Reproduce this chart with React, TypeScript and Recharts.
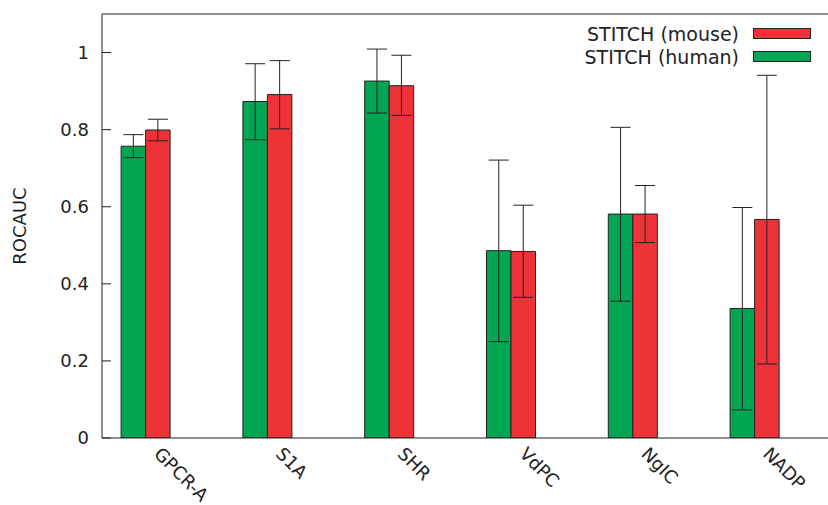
import {
  BarChart,
  Bar,
  XAxis,
  YAxis,
  ErrorBar,
  Legend,
} from 'recharts'

const categories = ['GPCR-A', 'S1A', 'SHR', 'VdPC', 'NgIC', 'NADP']

// STITCH (human) - green
const human = [0.757, 0.873, 0.926, 0.486, 0.581, 0.336]
const humanLow = [0.727, 0.774, 0.843, 0.25, 0.355, 0.073]
const humanHigh = [0.787, 0.971, 1.009, 0.721, 0.806, 0.598]

// STITCH (mouse) - red
const mouse = [0.799, 0.891, 0.914, 0.484, 0.581, 0.567]
const mouseLow = [0.771, 0.802, 0.837, 0.365, 0.507, 0.192]
const mouseHigh = [0.827, 0.979, 0.993, 0.604, 0.655, 0.941]

const yTicks = [0, 0.2, 0.4, 0.6, 0.8, 1]

const GREEN = '#00A651'
const RED = '#EE3338'
const INK = '#222'
const FONT = '"DejaVu Sans", sans-serif'

const chartData = categories.map((name, i) => ({
  name,
  human: human[i],
  humanErr: [human[i] - humanLow[i], humanHigh[i] - human[i]],
  mouse: mouse[i],
  mouseErr: [mouse[i] - mouseLow[i], mouseHigh[i] - mouse[i]],
}))

// rotated category labels, anchored under the red bar
// eslint-disable-next-line @typescript-eslint/no-explicit-any
function CategoryTick(props: any) {
  const { x, y, payload } = props
  const tx = x + 7
  const ty = y + 9
  return (
    <text
      x={tx}
      y={ty}
      transform={`rotate(45, ${tx}, ${ty})`}
      textAnchor="start"
      fill={INK}
      fontSize={18}
      fontFamily={FONT}
    >
      {payload.value}
    </text>
  )
}

function KeyBox() {
  const rows = [
    { label: 'STITCH (mouse)', color: RED },
    { label: 'STITCH (human)', color: GREEN },
  ]
  return (
    <div style={{ fontFamily: FONT, fontSize: 19, color: INK }}>
      {rows.map((r) => (
        <div
          key={r.label}
          style={{
            display: 'flex',
            justifyContent: 'flex-end',
            alignItems: 'center',
            height: 23,
            whiteSpace: 'nowrap',
          }}
        >
          <span>{r.label}</span>
          <span
            style={{
              display: 'inline-block',
              width: 56,
              height: 9,
              marginLeft: 14,
              background: r.color,
              border: `1px solid ${INK}`,
            }}
          />
        </div>
      ))}
    </div>
  )
}

export default function App() {
  return (
    <div
      style={{
        position: 'fixed',
        left: 0,
        top: 0,
        width: 828,
        height: 505,
        overflow: 'hidden',
        background: '#fff',
      }}
    >
      <BarChart
        width={850}
        height={505}
        data={chartData}
        margin={{ top: 0, right: 0, bottom: 0, left: 0 }}
        barGap={0}
      >
        <XAxis
          dataKey="name"
          height={67}
          padding={{ left: -16.9, right: 19.1 }}
          axisLine={{ stroke: INK }}
          tickLine={false}
          tick={CategoryTick}
          interval={0}
        />
        <XAxis
          xAxisId="top"
          dataKey="name"
          orientation="top"
          height={14}
          padding={{ left: -4.9, right: 7.1 }}
          axisLine={{ stroke: INK }}
          tickLine={{ stroke: INK }}
          tickSize={-9}
          tick={false}
          interval={0}
        />
        <YAxis
          width={102}
          domain={[0, 1.1]}
          ticks={yTicks}
          allowDataOverflow
          axisLine={{ stroke: INK }}
          tickLine={{ stroke: INK }}
          tickSize={-9}
          tickMargin={22}
          tick={{ fill: INK, fontSize: 18, fontFamily: FONT }}
          label={{
            value: 'ROCAUC',
            angle: -90,
            position: 'insideLeft',
            offset: 20,
            style: { fill: INK, fontSize: 18, fontFamily: FONT, textAnchor: 'middle' },
          }}
        />
        <YAxis
          yAxisId="right"
          orientation="right"
          width={15}
          domain={[0, 1.1]}
          ticks={yTicks}
          axisLine={{ stroke: INK }}
          tickLine={{ stroke: INK }}
          tickSize={-9}
          tick={false}
        />
        <Legend
          layout="vertical"
          align="center"
          verticalAlign="middle"
          content={KeyBox}
          wrapperStyle={{ top: 22, left: 566, width: 245 }}
        />
        <Bar
          dataKey="human"
          name="STITCH (human)"
          fill={GREEN}
          stroke={INK}
          strokeWidth={1}
          barSize={24.5}
          isAnimationActive={false}
        >
          <ErrorBar dataKey="humanErr" width={10} stroke={INK} strokeWidth={1} direction="y" />
        </Bar>
        <Bar
          dataKey="mouse"
          name="STITCH (mouse)"
          fill={RED}
          stroke={INK}
          strokeWidth={1}
          barSize={24.5}
          isAnimationActive={false}
        >
          <ErrorBar dataKey="mouseErr" width={10} stroke={INK} strokeWidth={1} direction="y" />
        </Bar>
      </BarChart>
    </div>
  )
}
